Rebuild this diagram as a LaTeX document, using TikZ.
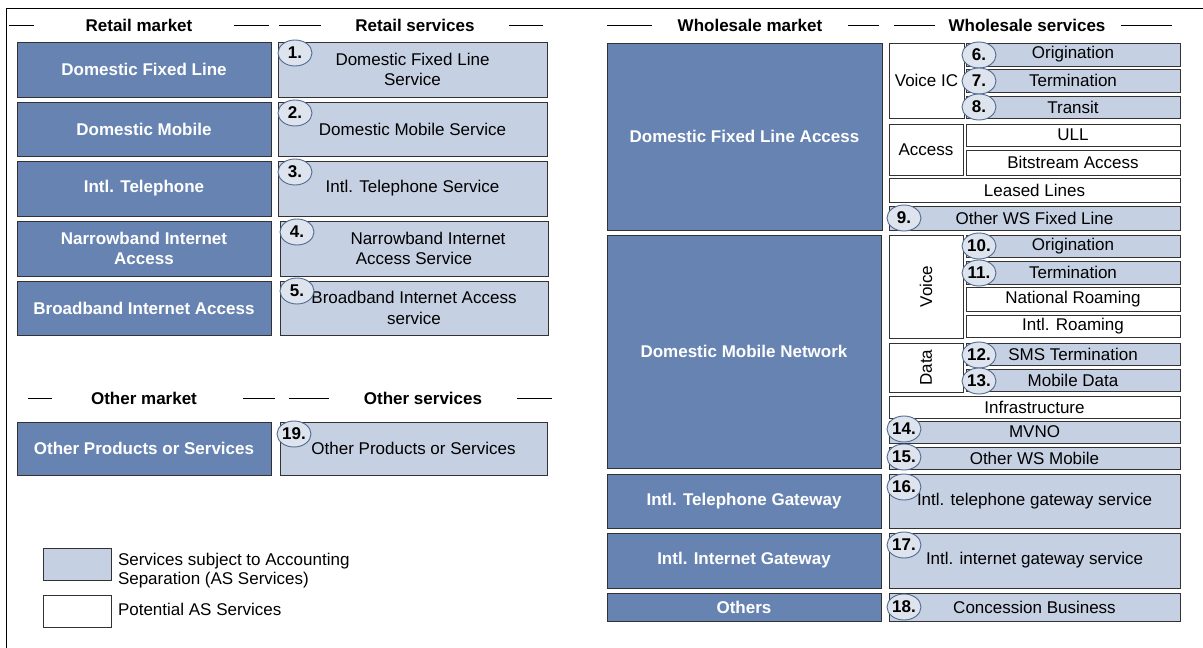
\documentclass[tikz,border=0pt]{standalone}
\usepackage{fontspec}
\setmainfont{Liberation Sans}
\usetikzlibrary{shapes.geometric}
\definecolor{dkblue}{RGB}{102,131,178}
\definecolor{ltblue}{RGB}{197,208,226}
\definecolor{circfill}{RGB}{222,228,237}
\definecolor{circline}{RGB}{80,105,145}
\definecolor{edgecol}{RGB}{50,50,50}
\newcommand\ff{\fontsize{17}{20.5}\selectfont}
\newcommand\bx[7]{%
  \pgfmathsetmacro\cxx{(#3+#5)/2}\pgfmathsetmacro\cyy{(#4+#6)/2}%
  \pgfmathsetmacro\ww{#5-#3}\pgfmathsetmacro\hh{#6-#4}%
  \node[#1, minimum width=\ww pt, minimum height=\hh pt] (#2) at (\cxx,\cyy) {#7};}
\newcommand\numc[4]{\node[numcirc] (#1) at (#2,#3) {#4};}
\begin{document}
\begin{tikzpicture}[x=1pt,y=-1pt,
  every node/.style={font=\ff, inner sep=0pt, outer sep=0pt},
  darkbox/.style={draw=edgecol, fill=dkblue, text=white, font=\ff\bfseries, align=center, line width=0.9pt},
  lightbox/.style={draw=edgecol, fill=ltblue, text=black, align=center, line width=0.9pt},
  whitebox/.style={draw=edgecol, fill=white, text=black, align=center, line width=0.9pt},
  numcirc/.style={ellipse, draw=circline, fill=circfill, line width=0.9pt, minimum width=34pt, minimum height=26pt, font=\ff\bfseries},
  hdr/.style={font=\ff\bfseries},
  dashline/.style={line width=1pt, black}]
\useasboundingbox (0,0) rectangle (1203,648);
\fill[white] (0,0) rectangle (1203,648);
\draw[line width=1pt] (6,648) -- (6,8) -- (1203,8);

% ---- headers ----
\node[hdr] (hRM) at (139,25) {Retail market};
\draw[dashline] (9,25) -- (34,25); \draw[dashline] (234,25) -- (269,25);
\node[hdr] (hRS) at (415,25) {Retail services};
\draw[dashline] (279,25) -- (321,25); \draw[dashline] (509,25) -- (543,25);
\node[hdr] (hOM) at (144,398) {Other market};
\draw[dashline] (28,398) -- (52,398); \draw[dashline] (243,398) -- (275,398);
\node[hdr] (hOS) at (423,398) {Other services};
\draw[dashline] (289,398) -- (329,398); \draw[dashline] (517,398) -- (552,398);
\node[hdr] (hWM) at (750,25) {Wholesale market};
\draw[dashline] (607,25) -- (652,25); \draw[dashline] (848,25) -- (879,25);
\node[hdr] (hWS) at (1027,25) {Wholesale services};
\draw[dashline] (894,25) -- (935,25); \draw[dashline] (1121,25) -- (1172,25);

% ---- retail ----
\bx{darkbox}{d1}{17}{42}{271}{97}{Domestic Fixed Line}
\bx{darkbox}{d2}{17}{102}{271}{156}{Domestic Mobile}
\bx{darkbox}{d3}{17}{161}{271}{216}{Intl. Telephone}
\bx{darkbox}{d4}{17}{221}{271}{276}{Narrowband Internet\\Access}
\bx{darkbox}{d5}{17}{281}{271}{335}{Broadband Internet Access}
\bx{lightbox}{s1}{278}{42}{547}{97}{Domestic Fixed Line\\Service}
\bx{lightbox}{s2}{278}{102}{547}{156}{Domestic Mobile Service}
\bx{lightbox}{s3}{278}{161}{547}{216}{Intl. Telephone Service}
\bx{lightbox}{s4}{280}{221}{548}{276}{\hspace*{28pt}Narrowband Internet\\Access Service}
\bx{lightbox}{s5}{280}{281}{548}{335}{Broadband Internet Access\\service}
\numc{n1}{295}{53}{1.}
\numc{n2}{295}{113}{2.}
\numc{n3}{295}{172}{3.}
\numc{n4}{297}{232}{4.}
\numc{n5}{297}{291}{5.}

% ---- other ----
\bx{darkbox}{d19}{17}{422}{271}{475}{Other Products or Services}
\bx{lightbox}{s19}{280}{422}{547}{475}{Other Products or Services}
\numc{n19}{294}{434}{19.}

% ---- legend ----
\bx{lightbox}{lg1}{43}{548}{111}{580}{}
\bx{whitebox}{lg2}{43}{595}{111}{627}{}
\node[anchor=west, align=left, font=\fontsize{17}{19}\selectfont] (lt1) at (118,571) {Services subject to Accounting\\Separation (AS Services)};
\node[anchor=west] (lt2) at (118,609) {Potential AS Services};

% ---- wholesale markets ----
\bx{darkbox}{w1}{607}{43}{882}{230}{Domestic Fixed Line Access}
\bx{darkbox}{w2}{607}{235}{881}{468}{Domestic Mobile Network}
\bx{darkbox}{w3}{607}{474}{881}{528}{Intl. Telephone Gateway}
\bx{darkbox}{w4}{607}{533}{881}{588}{Intl. Internet Gateway}
\bx{darkbox}{w5}{607}{593}{881}{621}{Others}

% ---- wholesale services: fixed ----
\bx{whitebox}{vic}{889}{43}{964}{118}{Voice IC}
\bx{lightbox}{o6}{966}{43}{1180}{66}{Origination}
\bx{lightbox}{t7}{966}{69}{1180}{92}{Termination}
\bx{lightbox}{tr8}{966}{96}{1180}{118}{Transit}
\bx{whitebox}{acc}{889}{124}{963}{175}{Access}
\bx{whitebox}{ull}{966}{124}{1180}{146}{ULL}
\bx{whitebox}{bsa}{966}{150}{1180}{175}{Bitstream Access}
\bx{whitebox}{ll}{889}{178}{1180}{202}{Leased Lines}
\bx{lightbox}{ow9}{889}{206}{1180}{230}{Other WS Fixed Line}
\numc{n6}{979}{55}{6.}
\numc{n7}{979}{81}{7.}
\numc{n8}{979}{107}{8.}
\numc{n9}{904}{218}{9.}

% ---- wholesale services: mobile ----
\bx{whitebox}{vo}{889}{235}{963}{338}{}
\node[rotate=90] (volbl) at (vo.center) {Voice};
\bx{lightbox}{o10}{966}{235}{1180}{257}{Origination}
\bx{lightbox}{t11}{966}{261}{1180}{284}{Termination}
\bx{whitebox}{nr}{966}{287}{1180}{311}{National Roaming}
\bx{whitebox}{ir}{966}{315}{1180}{337}{Intl. Roaming}
\bx{whitebox}{da}{889}{343}{963}{392}{}
\node[rotate=90] (dalbl) at (da.center) {Data};
\bx{lightbox}{sms}{966}{343}{1180}{365}{SMS Termination}
\bx{lightbox}{md}{966}{369}{1180}{391}{Mobile Data}
\bx{whitebox}{inf}{889}{396}{1180}{418}{Infrastructure}
\bx{lightbox}{mv}{889}{421}{1180}{443}{MVNO}
\bx{lightbox}{owm}{889}{447}{1180}{469}{Other WS Mobile}
\numc{n10}{979}{246}{10.}
\numc{n11}{979}{273}{11.}
\numc{n12}{979}{355}{12.}
\numc{n13}{979}{381}{13.}
\numc{n14}{904}{429}{14.}
\numc{n15}{904}{457}{15.}

% ---- wholesale services: gateways ----
\bx{lightbox}{g16}{889}{474}{1180}{528}{Intl. telephone gateway service}
\bx{lightbox}{g17}{889}{533}{1180}{588}{Intl. internet gateway service}
\bx{lightbox}{c18}{889}{593}{1180}{621}{Concession Business}
\numc{n16}{904}{487}{16.}
\numc{n17}{904}{545}{17.}
\numc{n18}{904}{607}{18.}
\end{tikzpicture}
\end{document}
